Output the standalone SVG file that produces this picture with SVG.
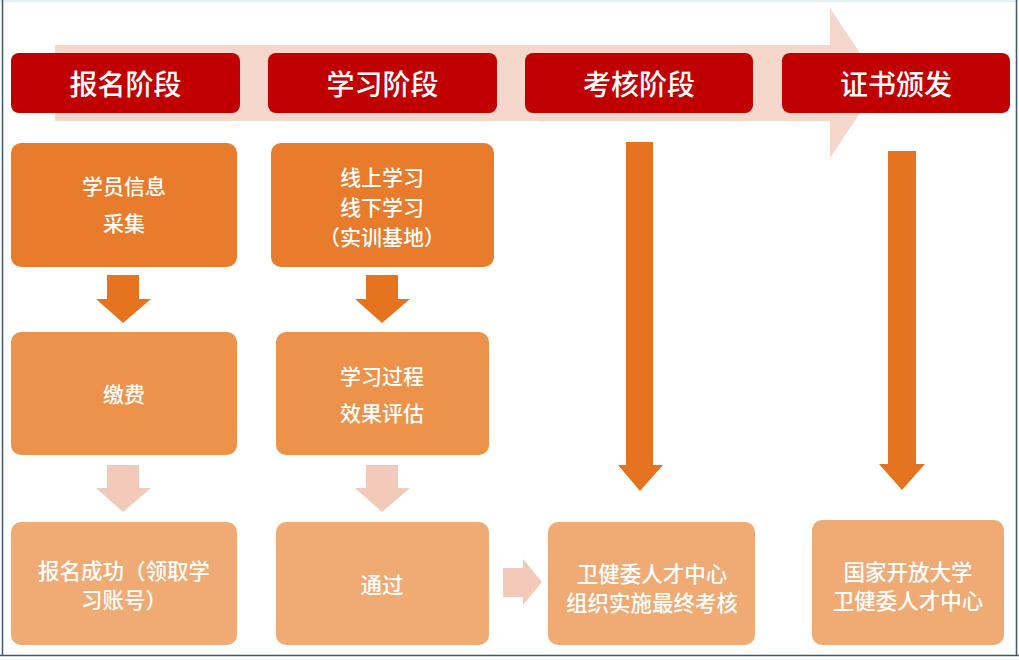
<svg xmlns="http://www.w3.org/2000/svg" width="1019" height="660" viewBox="0 0 1019 660">
<style>
text{font-family:"Noto Sans CJK SC","Noto Sans",sans-serif;fill:#ffffff;text-anchor:middle;dominant-baseline:central}
.hd{fill:#c00000}
.hd-t{font-size:28px;font-weight:500}
.r1{fill:#e97b2c}
.r2{fill:#ed924a}
.r3{fill:#f0aa74}
.bt{font-size:21px;font-weight:500}
.bt3{font-size:21.5px;font-weight:500}
.dk{fill:#e5731f}
.lt{fill:#f3c9b9}
</style>
<rect x="0" y="0" width="1019" height="660" fill="#ffffff"/>
<!-- frame -->
<line x1="0" y1="1" x2="1019" y2="1" stroke="#dff3f7" stroke-width="2"/>
<line x1="2.5" y1="0" x2="2.5" y2="656" stroke="#3e5a6a" stroke-width="1.5"/>
<line x1="0" y1="655.5" x2="1019" y2="655.5" stroke="#3e5a6a" stroke-width="1.5"/>
<line x1="1016.5" y1="0" x2="1016.5" y2="656" stroke="#3e5a6a" stroke-width="1.5"/>
<!-- background progress arrow -->
<polygon points="55,45 830,45 830,8 880,83 830,158 830,121 55,121" fill="#f6d7cb"/>
<g id="connectors">
<polygon class="dk" points="107,275 139,275 139,299 151,299 123,323 96,299 107,299"/>
<polygon class="dk" points="366,275 398,275 398,299 410,299 382,323 355,299 366,299"/>
<polygon class="lt" points="107,465 139,465 139,488 151,488 123,512 96,488 107,488"/>
<polygon class="lt" points="366,465 398,465 398,488 410,488 382,512 355,488 366,488"/>
<polygon class="dk" points="626,142 653,142 653,465 663,465 640,491 618,465 626,465"/>
<polygon class="dk" points="888,151 916,151 916,464 925,464 902,490 879,464 888,464"/>
<polygon class="lt" points="503,568 523,568 523,559 542,582 523,605 523,597 503,597"/>
</g>
<g id="h1"><rect class="hd" x="11" y="53" width="229" height="60" rx="8"/><text class="hd-t" x="125.5" y="83">报名阶段</text></g>
<g id="h2"><rect class="hd" x="268" y="53" width="229" height="60" rx="8"/><text class="hd-t" x="382.5" y="83">学习阶段</text></g>
<g id="h3"><rect class="hd" x="525" y="53" width="228" height="60" rx="8"/><text class="hd-t" x="639" y="83">考核阶段</text></g>
<g id="h4"><rect class="hd" x="782" y="53" width="228" height="60" rx="8"/><text class="hd-t" x="896" y="83">证书颁发</text></g>
<g id="a1"><rect class="r1" x="11" y="143" width="226" height="124" rx="10"/><text class="bt" x="124" y="185">学员信息</text><text class="bt" x="124" y="222">采集</text></g>
<g id="b1"><rect class="r1" x="271" y="143" width="223" height="124" rx="10"/><text class="bt" x="382" y="176">线上学习</text><text class="bt" x="382" y="206">线下学习</text><text class="bt" x="382" y="236">（实训基地）</text></g>
<g id="a2"><rect class="r2" x="11" y="332" width="226" height="123" rx="10"/><text class="bt" x="124" y="393">缴费</text></g>
<g id="b2"><rect class="r2" x="276" y="332" width="213" height="123" rx="10"/><text class="bt" x="382" y="375">学习过程</text><text class="bt" x="382" y="412">效果评估</text></g>
<g id="a3"><rect class="r3" x="11" y="522" width="226" height="123" rx="10"/><text class="bt3" x="124" y="569">报名成功（领取学</text><text class="bt3" x="124" y="598">习账号）</text></g>
<g id="b3"><rect class="r3" x="276" y="522" width="213" height="123" rx="10"/><text class="bt3" x="382" y="583">通过</text></g>
<g id="c3"><rect class="r3" x="548" y="522" width="207" height="123" rx="10"/><text class="bt3" x="652" y="572">卫健委人才中心</text><text class="bt3" x="652" y="601">组织实施最终考核</text></g>
<g id="d3"><rect class="r3" x="812" y="520" width="192" height="125" rx="10"/><text class="bt3" x="908" y="570">国家开放大学</text><text class="bt3" x="908" y="599">卫健委人才中心</text></g>
</svg>
